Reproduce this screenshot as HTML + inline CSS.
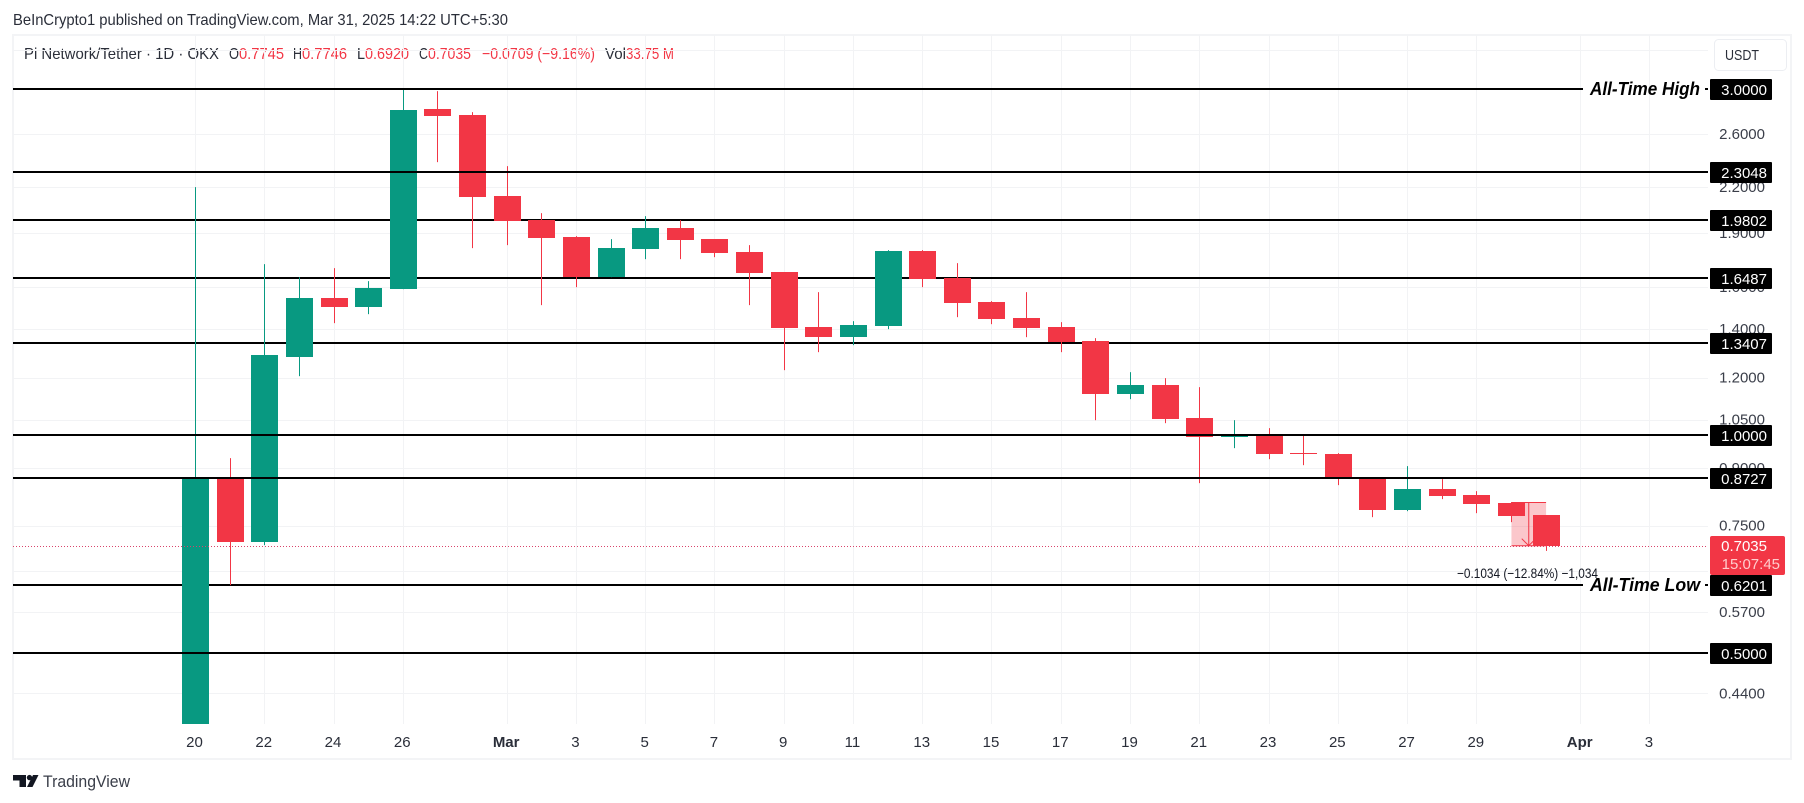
<!DOCTYPE html>
<html lang="en">
<head>
<meta charset="utf-8">
<title>Pi Network/Tether 1D chart</title>
<style>
html,body{margin:0;padding:0;background:#fff;width:1804px;height:803px;overflow:hidden}
svg{display:block;font-family:"Liberation Sans",Arial,sans-serif}
</style>
</head>
<body>
<svg id="chart" xmlns="http://www.w3.org/2000/svg" width="1804" height="803" viewBox="0 0 1804 803">
  <defs><clipPath id="pane-clip"><rect x="13" y="35" width="1695" height="689"/></clipPath></defs>
  <rect x="13" y="35" width="1778" height="724" fill="#fff" stroke="#f3f4f6" stroke-width="2"/>
  <text x="13" y="25" font-size="16" fill="#2a2e39" textLength="495" lengthAdjust="spacingAndGlyphs">BeInCrypto1 published on TradingView.com, Mar 31, 2025 14:22 UTC+5:30</text>
  <g font-size="16" fill="#2a2e39">
    <text x="24" y="59" textLength="195" lengthAdjust="spacingAndGlyphs">Pi Network/Tether · 1D · OKX</text>
    <text x="229" y="59" textLength="10" lengthAdjust="spacingAndGlyphs">O</text>
    <text x="239" y="59" fill="#f23645" textLength="45" lengthAdjust="spacingAndGlyphs">0.7745</text>
    <text x="293" y="59" textLength="9" lengthAdjust="spacingAndGlyphs">H</text>
    <text x="302" y="59" fill="#f23645" textLength="45" lengthAdjust="spacingAndGlyphs">0.7746</text>
    <text x="357" y="59" textLength="8" lengthAdjust="spacingAndGlyphs">L</text>
    <text x="365" y="59" fill="#f23645" textLength="44" lengthAdjust="spacingAndGlyphs">0.6920</text>
    <text x="419" y="59" textLength="9" lengthAdjust="spacingAndGlyphs">C</text>
    <text x="428" y="59" fill="#f23645" textLength="43" lengthAdjust="spacingAndGlyphs">0.7035</text>
    <text x="482" y="59" fill="#f23645" textLength="113" lengthAdjust="spacingAndGlyphs">−0.0709 (−9.16%)</text>
    <text x="605" y="59" textLength="21" lengthAdjust="spacingAndGlyphs">Vol</text>
    <text x="626" y="59" fill="#f23645" textLength="48" lengthAdjust="spacingAndGlyphs">33.75 M</text>
  </g>
  <g id="grid"></g>
  <g id="levels-under" clip-path="url(#pane-clip)"></g>
  <g id="measure-under" clip-path="url(#pane-clip)"></g>
  <g id="candles" clip-path="url(#pane-clip)"></g>
  <g id="levels-over" clip-path="url(#pane-clip)"></g>
  <g id="price-line"></g>
  <g id="y-axis"></g>
  <g id="x-axis"></g>
  <g id="last-badge"></g>
  <g id="badges"></g>
  <g>
    <rect x="1714.5" y="39.5" width="72" height="31" rx="4" fill="#fff" stroke="#eceef2"/>
    <text x="1725" y="60" font-size="15" fill="#2a2e39" textLength="34" lengthAdjust="spacingAndGlyphs">USDT</text>
  </g>
  <g>
    <polygon points="13,775 26,775 26,787 19.5,787 19.5,780.5 13,780.5" fill="#131722"/>
    <circle cx="29.5" cy="777.6" r="2.7" fill="#131722"/>
    <polygon points="33,775 38.5,775 32.5,787 27,787" fill="#131722"/>
    <text x="43" y="787" font-size="17" fill="#3a3e49" textLength="87" lengthAdjust="spacingAndGlyphs">TradingView</text>
  </g>
</svg>
<script>
// ---- chart data ----
const barDates = ["Feb 20","Feb 21","Feb 22","Feb 23","Feb 24","Feb 25","Feb 26","Feb 27","Feb 28","Mar 1","Mar 2","Mar 3","Mar 4","Mar 5","Mar 6","Mar 7","Mar 8","Mar 9","Mar 10","Mar 11","Mar 12","Mar 13","Mar 14","Mar 15","Mar 16","Mar 17","Mar 18","Mar 19","Mar 20","Mar 21","Mar 22","Mar 23","Mar 24","Mar 25","Mar 26","Mar 27","Mar 28","Mar 29","Mar 30","Mar 31"];
const opens  = [0.39,0.872,0.7121,1.2806,1.5445,1.5010,1.5893,2.8153,2.7622,2.1355,1.9788,1.8748,1.6510,1.8046,1.9292,1.8629,1.7875,1.6775,1.4086,1.3645,1.4130,1.7932,1.6458,1.5250,1.4494,1.4086,1.3473,1.1385,1.1715,1.0549,0.9932,0.9963,0.9439,0.9409,0.8692,0.7876,0.8420,0.8261,0.8054,0.7745];
const highs  = [2.1975,0.9291,1.7207,1.6510,1.6990,1.6302,3.0000,2.9810,2.7886,2.3491,2.0232,1.8807,1.8629,2.0040,1.9788,1.8629,1.8278,1.6775,1.5742,1.4356,1.7989,1.7989,1.7261,1.5299,1.5742,1.4311,1.3602,1.2209,1.1979,1.1641,1.0482,1.0220,0.9995,0.9439,0.8719,0.9058,0.8692,0.8367,0.8080,0.7746];
const lows   = [0.39,0.6207,0.7048,1.2055,1.4266,1.4679,1.5893,2.3791,1.8105,1.8278,1.5106,1.5994,1.6510,1.7482,1.7482,1.7593,1.5106,1.2287,1.3010,1.3303,1.3996,1.5994,1.4540,1.4220,1.3645,1.3010,1.0482,1.1205,1.0383,0.8582,0.9591,0.9261,0.9086,0.8528,0.7703,0.7851,0.8157,0.7801,0.7582,0.6920];
const closes = [0.872,0.7121,1.2887,1.5445,1.5010,1.5944,2.8064,2.7534,2.1287,1.9725,1.8688,1.6510,1.8105,1.9292,1.8570,1.7818,1.6721,1.4041,1.3645,1.4175,1.7932,1.6406,1.5202,1.4448,1.4041,1.3430,1.1385,1.1715,1.0516,0.9932,0.9963,0.9409,0.9409,0.8747,0.7876,0.8420,0.8235,0.8028,0.7727,0.7035];
const yTicks = [3.4,2.6,2.2,1.9,1.6,1.4,1.2,1.05,0.9,0.75,0.65,0.57,0.44];
const yTickLabels = ["","2.6000","2.2000","1.9000","1.6000","1.4000","1.2000","1.0500","0.9000","0.7500","","0.5700","0.4400"];
const xTickBars = [0,2,4,6,9,11,13,15,17,19,21,23,25,27,29,31,33,35,37,40,42];
const xTickLabels = ["20","22","24","26","Mar","3","5","7","9","11","13","15","17","19","21","23","25","27","29","Apr","3"];
const levelsUnderCandles = [1.9802,1.6487,1.3407,0.6201];
const levelsOverCandles = [3.0,2.3048,1.0,0.8727,0.5];
const levelBadgePrices = [3.0,2.3048,1.9802,1.6487,1.3407,1.0,0.8727,0.6201,0.5];
const levelBadgeLabels = ["3.0000","2.3048","1.9802","1.6487","1.3407","1.0000","0.8727","0.6201","0.5000"];
const notedPrices = [3.0,0.6201];
const notedLabels = ["All-Time High","All-Time Low"];
const lastPrice = 0.7035;
const lastPriceLabel = "0.7035";
const countdownLabel = "15:07:45";
const measureBars = [38,39];
const measurePrices = [0.8069,0.7035];
const measureLabel = "−0.1034 (−12.84%) −1,034";

// ---- axis functions ----
const PANE = {left:13,right:1708,top:35,bottom:724};
function xScale(bar){ return 195.5 + bar * 34.63; }
function yScale(price){ return 89.15 + (Math.log(3) - Math.log(price)) * 314.8; }

const NS = "http://www.w3.org/2000/svg";
const UP = "#089981", DOWN = "#f23645", INK = "#2a2e39";
function make(tag, parentId, props){
  const el = document.createElementNS(NS, tag);
  for (const k in props) el.setAttribute(k, props[k]);
  document.getElementById(parentId).appendChild(el);
  return el;
}

// gridlines
xTickBars.forEach(function(bar){
  const x = Math.floor(xScale(bar)) + 0.5;
  const el = make("line","grid",{x1:x,x2:x,y1:PANE.top,y2:PANE.bottom,stroke:"#f2f3f5","stroke-width":1});
  
  
});
yTicks.forEach(function(p){
  const y = Math.round(yScale(p)) + 0.5;
  const el = make("line","grid",{x1:PANE.left,x2:PANE.right,y1:y,y2:y,stroke:"#f2f3f5","stroke-width":1});
  
  
});

// level lines
function drawLevel(p, parentId){
  const y = Math.round(yScale(p));
  const i = notedPrices.indexOf(p);
  if (i < 0) {
    const el = make("rect",parentId,{x:PANE.left,y:y-1,width:PANE.right-PANE.left,height:2,fill:"#000"});
    
    
  } else {
    const a = make("rect",parentId,{x:PANE.left,y:y-1,width:1570,height:2,fill:"#000"});
    
    
    const b = make("rect",parentId,{x:1705,y:y-1,width:3,height:2,fill:"#000"});
    
    
    const t = make("text",parentId,{x:1590,y:y+6,"font-size":18,"font-weight":"bold","font-style":"italic",fill:"#000",textLength:110,lengthAdjust:"spacingAndGlyphs"});
    t.textContent = notedLabels[i];
    
    
  }
}
levelsUnderCandles.forEach(function(p){ drawLevel(p,"levels-under"); });
levelsOverCandles.forEach(function(p){ drawLevel(p,"levels-over"); });

// measure tool
(function(){
  const x0 = xScale(measureBars[0]), x1 = xScale(measureBars[1]);
  const yA = yScale(measurePrices[0]), yB = yScale(measurePrices[1]);
  const xm = (x0 + x1) / 2;
  const shade = make("rect","measure-under",{x:x0,y:yA,width:x1-x0,height:yB-yA,fill:"#f23645","fill-opacity":0.28});
  
  
  const top = make("line","measure-under",{x1:x0,x2:x1,y1:yA,y2:yA,stroke:DOWN,"stroke-width":1});
  
  
  const bottom = make("line","measure-under",{x1:x0,x2:x1,y1:yB,y2:yB,stroke:DOWN,"stroke-width":1});
  
  
  const arrow = make("path","measure-under",{d:"M"+xm+" "+yA+"V"+yB+"M"+(xm-7)+" "+(yB-7)+"L"+xm+" "+yB+"L"+(xm+5)+" "+(yB-5),fill:"none",stroke:DOWN,"stroke-width":1});
  
  
  const label = make("text","price-line",{x:1457,y:578,"font-size":14,fill:"#131722",textLength:141,lengthAdjust:"spacingAndGlyphs"});
  label.textContent = measureLabel;
  
  
})();

// candles
barDates.forEach(function(d,i){
  const xc = Math.floor(xScale(i));
  const color = closes[i] >= opens[i] ? UP : DOWN;
  const yHigh = yScale(highs[i]), yLow = yScale(lows[i]);
  const yTop = Math.round(yScale(Math.max(opens[i],closes[i])));
  const yBottom = Math.round(yScale(Math.min(opens[i],closes[i])));
  const wick = make("rect","candles",{x:xc,y:yHigh,width:1,height:Math.max(1,yLow-yHigh),fill:color});
  
  
  const body = make("rect","candles",{x:xc-13,y:yTop,width:27,height:Math.max(1,yBottom-yTop),fill:color});
  
  
});

// last price line
(function(){
  const y = Math.round(yScale(lastPrice)) + 0.5;
  const el = make("line","price-line",{x1:PANE.left,x2:PANE.right,y1:y,y2:y,stroke:"#d9446b","stroke-width":1,"stroke-dasharray":"1 2"});
  
  
})();

// y axis labels
yTicks.forEach(function(p,i){
  if (!yTickLabels[i]) return;
  const t = make("text","y-axis",{x:1765,y:yScale(p)+5,"font-size":15,"text-anchor":"end",fill:"#3a3e49"});
  t.textContent = yTickLabels[i];
  
  
});

// x axis labels
xTickBars.forEach(function(bar,i){
  const lab = xTickLabels[i];
  const bold = lab === "Mar" || lab === "Apr";
  const t = make("text","x-axis",{x:xScale(bar)-1,y:747,"font-size":15,"text-anchor":"middle",fill:INK,"font-weight":bold?"bold":"normal"});
  t.textContent = lab;
  
  
});

// level badges
levelBadgePrices.forEach(function(p,i){
  const y = Math.round(yScale(p));
  const r = make("rect","badges",{x:1710,y:y-10,width:62,height:21,fill:"#000",rx:1});
  
  
  const t = make("text","badges",{x:1767,y:y+6,"font-size":15,"text-anchor":"end",fill:"#fff"});
  t.textContent = levelBadgeLabels[i];
  
  
});

// last price badge
(function(){
  const y = Math.round(yScale(lastPrice));
  const r = make("rect","last-badge",{x:1710,y:y-10,width:75,height:39,rx:2,fill:DOWN});
  
  
  const t = make("text","last-badge",{x:1767,y:y+5,"font-size":15,"text-anchor":"end",fill:"#fff"});
  t.textContent = lastPriceLabel;
  
  
  const c = make("text","last-badge",{x:1780,y:y+23,"font-size":15,"text-anchor":"end",fill:"#fcc"});
  c.textContent = countdownLabel;
  
  
})();
</script>
</body>
</html>
